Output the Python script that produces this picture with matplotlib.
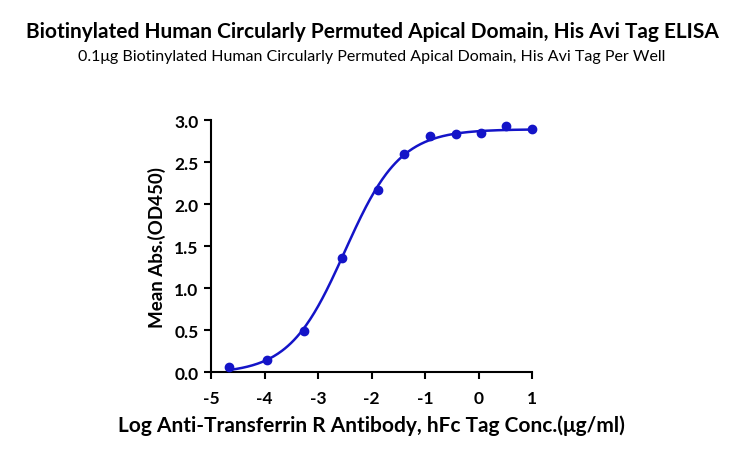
import numpy as np
import matplotlib
matplotlib.use("Agg")
import matplotlib.pyplot as plt

# --- Data ---
log_conc = [-4.66, -3.95, -3.26, -2.56, -1.87, -1.39, -0.91, -0.43, 0.04, 0.52, 1.0]
mean_abs = [0.063, 0.143, 0.492, 1.357, 2.167, 2.591, 2.806, 2.829, 2.845, 2.929, 2.893]

# 4PL fit parameters (estimated from the drawn curve)
bottom, top = -0.02, 2.89
log_ec50, hill = -2.50, 0.84

x_ticks = [-5, -4, -3, -2, -1, 0, 1]
y_ticks = [0.0, 0.5, 1.0, 1.5, 2.0, 2.5, 3.0]

title = "Biotinylated Human Circularly Permuted Apical Domain, His Avi Tag ELISA"
subtitle = "0.1\u03bcg Biotinylated Human Circularly Permuted Apical Domain, His Avi Tag Per Well"
xlabel = "Log Anti-Transferrin R Antibody, hFc Tag Conc.(\u03bcg/ml)"
ylabel = "Mean Abs.(OD450)"

blue = "#1414C8"

plt.rcParams['font.family'] = ['Lato', 'DejaVu Sans']

fig = plt.figure(figsize=(7.44, 4.56), dpi=100)
ax = fig.add_axes([0.2836, 0.182, 0.4315, 0.5526])

xs = np.linspace(min(log_conc), max(log_conc), 300)
ys = bottom + (top - bottom) / (1 + 10 ** ((log_ec50 - xs) * hill))
ax.plot(xs, ys, color=blue, lw=1.8, zorder=2)
ax.plot(log_conc, mean_abs, 'o', color=blue, ms=6, zorder=3, clip_on=False)

ax.set_xlim(-5, 1)
ax.set_ylim(0, 3)
ax.set_xticks(x_ticks)
ax.set_yticks(y_ticks)
ax.set_xticklabels([str(t) for t in x_ticks])
ax.set_yticklabels([f"{t:.1f}" for t in y_ticks])

for s in ['top', 'right']:
    ax.spines[s].set_visible(False)
for s in ['left', 'bottom']:
    ax.spines[s].set_linewidth(1.5)
ax.tick_params(width=1.5, length=5, labelsize=12.5, pad=4)
ax.tick_params(axis='x', pad=8)
for lab in ax.get_xticklabels() + ax.get_yticklabels():
    lab.set_fontweight('bold')

ax.set_xlabel(xlabel, fontsize=15, fontweight='bold', labelpad=6)
ax.set_ylabel(ylabel, fontsize=13.5, fontweight='bold', labelpad=6)

fig.text(0.5, 0.93, title, ha='center', va='center', fontsize=15, fontweight='bold')
fig.text(0.5, 0.875, subtitle, ha='center', va='center', fontsize=11.5)

fig.savefig("out.png", dpi=100)
